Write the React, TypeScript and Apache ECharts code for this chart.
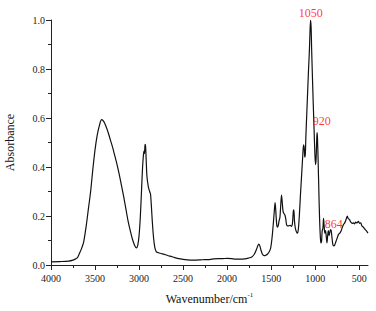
import React, { useEffect, useRef } from "react";
import * as echarts from "echarts";

const wavenumbers = [
  4000, 3900, 3800, 3750, 3720, 3700, 3680, 3650, 3630, 3600, 3575, 3550, 3525, 3500, 3475, 3450, 3425, 3400,
  3375, 3350, 3325, 3300, 3275, 3250, 3225, 3200, 3175, 3150, 3125, 3100, 3075, 3050, 3030, 3015, 3000, 2985,
  2970, 2960, 2950, 2943, 2938, 2932, 2926, 2918, 2910, 2895, 2880, 2870, 2860, 2850, 2835, 2820, 2805, 2780,
  2750, 2700, 2650, 2600, 2550, 2500, 2450, 2400, 2350, 2300, 2250, 2200, 2150, 2100, 2050, 2000, 1950, 1900,
  1850, 1800, 1760, 1720, 1690, 1665, 1650, 1640, 1630, 1615, 1600, 1580, 1560, 1540, 1520, 1505, 1490, 1475,
  1462, 1455, 1447, 1438, 1430, 1420, 1410, 1400, 1390, 1382, 1375, 1365, 1355, 1345, 1335, 1325, 1315, 1300,
  1285, 1270, 1258, 1248, 1242, 1235, 1225, 1212, 1200, 1190, 1180, 1168, 1155, 1142, 1132, 1125, 1118, 1112,
  1105, 1095, 1085, 1075, 1065, 1058, 1052, 1046, 1040, 1032, 1022, 1012, 1004, 996, 990, 985, 979, 974, 966,
  958, 950, 942, 935, 928, 920, 912, 905, 898, 890, 882, 875, 866, 858, 850, 842, 835, 826, 818, 810, 800, 790,
  780, 765, 750, 735, 720, 705, 690, 678, 668, 655, 645, 635, 625, 610, 595, 580, 565, 552, 540, 525, 510, 495,
  482, 470, 455, 440, 420, 400,
];

const absorbance = [
  0.013, 0.014, 0.016, 0.02, 0.025, 0.03, 0.045, 0.07, 0.092, 0.16, 0.23, 0.3, 0.39, 0.47, 0.53, 0.57, 0.593,
  0.585, 0.565, 0.54, 0.51, 0.48, 0.445, 0.41, 0.37, 0.325, 0.28, 0.23, 0.18, 0.14, 0.105, 0.08, 0.07, 0.08, 0.12,
  0.2, 0.32, 0.4, 0.45, 0.465, 0.455, 0.492, 0.485, 0.42, 0.36, 0.32, 0.3, 0.29, 0.24, 0.18, 0.11, 0.07, 0.055,
  0.05, 0.047, 0.042, 0.036, 0.031, 0.026, 0.023, 0.021, 0.02, 0.02, 0.021, 0.022, 0.022, 0.025, 0.026, 0.026,
  0.027, 0.026, 0.024, 0.024, 0.025, 0.028, 0.033, 0.045, 0.065, 0.08, 0.085, 0.08, 0.06, 0.045, 0.038, 0.04,
  0.045, 0.055, 0.07, 0.11, 0.17, 0.23, 0.255, 0.22, 0.17, 0.155, 0.16, 0.18, 0.195, 0.25, 0.285, 0.26, 0.22,
  0.21, 0.205, 0.19, 0.165, 0.16, 0.16, 0.162, 0.158, 0.17, 0.22, 0.225, 0.18, 0.15, 0.135, 0.13, 0.15, 0.2,
  0.28, 0.36, 0.44, 0.49, 0.48, 0.44, 0.45, 0.53, 0.62, 0.71, 0.8, 0.88, 0.96, 1.0, 0.97, 0.88, 0.78, 0.66,
  0.55, 0.46, 0.41, 0.43, 0.48, 0.54, 0.52, 0.42, 0.3, 0.19, 0.12, 0.09, 0.095, 0.14, 0.15, 0.19, 0.16, 0.13,
  0.14, 0.12, 0.09, 0.12, 0.14, 0.12, 0.13, 0.145, 0.14, 0.115, 0.085, 0.078, 0.08, 0.095, 0.11, 0.125, 0.13,
  0.14, 0.155, 0.165, 0.17, 0.18, 0.19, 0.2, 0.19, 0.185, 0.175, 0.17, 0.172, 0.168, 0.175, 0.172, 0.178, 0.17,
  0.172, 0.16, 0.155, 0.148, 0.14, 0.13,
];

const xTickLabels = [4000, 3500, 3000, 2500, 2000, 1500, 1000, 500];
const xMinorTicks = [3750, 3250, 2750, 2250, 1750, 1250, 750];
const peakLabels = ["1050", "920", "864"];
const peakLabelPos = [
  [1049, 1.029],
  [924, 0.588],
  [788, 0.167],
];

const FONT = "Liberation Serif, Times New Roman, serif";
const AXIS_COLOR = "#222";

export default function App() {
  const ref = useRef<HTMLDivElement>(null);
  useEffect(() => {
    if (!ref.current) return;
    const chart = echarts.init(ref.current, null, { renderer: "svg" });
    const lineData = wavenumbers.map((w, i) => [w, absorbance[i]]);
    const labelData = peakLabels.map((t, i) => ({ value: peakLabelPos[i], name: t }));
    const commonX = {
      type: "value" as const,
      min: 400,
      max: 4000,
      inverse: true,
      position: "bottom" as const,
      splitLine: { show: false },
    };
    chart.setOption({
      animation: false,
      backgroundColor: "#fff",
      textStyle: { fontFamily: FONT },
      grid: { left: 51, right: 8, top: 20, bottom: 46, containLabel: false, outerBoundsMode: "none" },
      xAxis: [
        {
          ...commonX,
          name: "Wavenumber/cm{sup|-1}",
          nameLocation: "middle",
          nameGap: 26,
          nameTextStyle: {
            fontFamily: FONT,
            fontSize: 12,
            color: "#111",
            rich: { sup: { fontFamily: FONT, fontSize: 7, color: "#111", verticalAlign: "top", padding: [0, 0, 8, 0] } },
          },
          axisLine: { show: true, lineStyle: { color: AXIS_COLOR, width: 1 } },
          axisTick: { show: true, inside: false, length: 5, lineStyle: { color: AXIS_COLOR }, customValues: xTickLabels },
          axisLabel: {
            show: true,
            fontFamily: FONT,
            fontSize: 10,
            color: "#222",
            margin: 8,
            customValues: xTickLabels,
            formatter: (v: number) => String(Math.round(v)),
          },
        },
        {
          ...commonX,
          axisLine: { show: false },
          axisTick: { show: true, inside: false, length: 3, lineStyle: { color: AXIS_COLOR }, customValues: xMinorTicks },
          axisLabel: { show: false },
        },
      ],
      yAxis: {
        type: "value",
        min: 0,
        max: 1,
        interval: 0.2,
        name: "Absorbance",
        nameLocation: "middle",
        nameGap: 35,
        nameTextStyle: { fontFamily: FONT, fontSize: 12, color: "#111" },
        splitLine: { show: false },
        axisLine: { show: true, lineStyle: { color: AXIS_COLOR, width: 1 } },
        axisTick: { show: true, inside: false, length: 5, lineStyle: { color: AXIS_COLOR } },
        minorTick: { show: true, splitNumber: 2, length: 3, lineStyle: { color: AXIS_COLOR } },
        axisLabel: {
          fontFamily: FONT,
          fontSize: 10,
          color: "#222",
          margin: 6,
          formatter: (v: number) => v.toFixed(1),
        },
      },
      series: [
        {
          type: "line",
          data: lineData,
          xAxisIndex: 0,
          showSymbol: false,
          symbol: "none",
          lineStyle: { color: "#111", width: 1.2 },
          smooth: 0.3,
          z: 2,
        },
        {
          type: "scatter",
          data: labelData,
          xAxisIndex: 0,
          symbolSize: 0,
          clip: false,
          silent: true,
          label: {
            show: true,
            position: "inside",
            formatter: (p: any) => p.name,
            fontFamily: FONT,
            fontSize: 12,
            color: "#ff0000",
          },
          z: 3,
        },
      ],
    });
    return () => chart.dispose();
  }, []);
  return <div ref={ref} style={{ position: "fixed", left: 0, top: 0, width: 376, height: 311 }} />;
}
